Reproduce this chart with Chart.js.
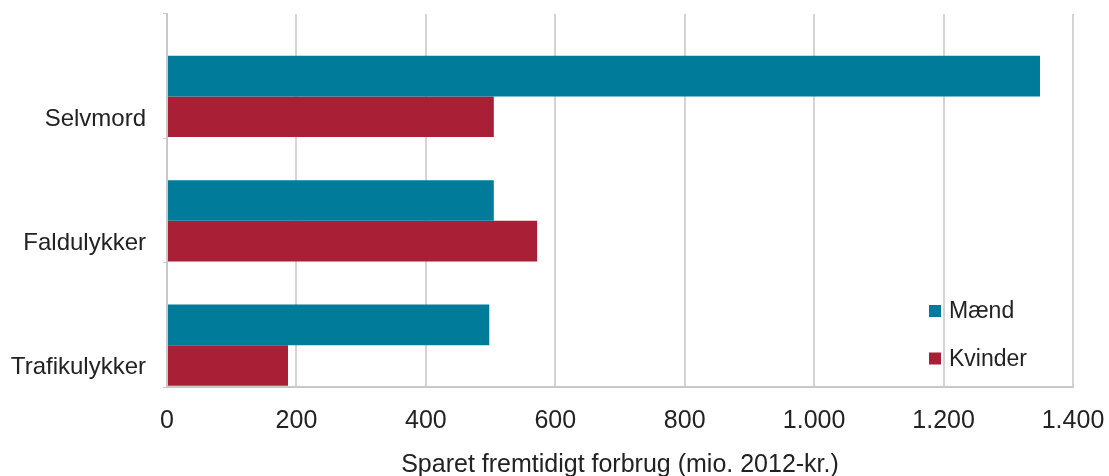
<!DOCTYPE html>
<html>
<head>
<meta charset="utf-8">
<script src="https://cdn.jsdelivr.net/npm/chart.js@4.4.1/dist/chart.umd.min.js"></script>
<style>
  html, body { margin: 0; padding: 0; background: #fff; }
  #wrap { width: 1109px; height: 476px; }
</style>
</head>
<body>
<div id="wrap"><canvas id="chart"></canvas></div>
<script>
// 데이터 (mio. 2012-kr.)
const categories = ['Selvmord', 'Faldulykker', 'Trafikulykker'];
const maend = [1349, 505, 498];
const kvinder = [505, 572, 187];
const seriesLabels = ['Mænd', 'Kvinder'];
const seriesColors = ['#007B9A', '#A81F36'];
const xTicks = [0, 200, 400, 600, 800, 1000, 1200, 1400];
const axisTitle = 'Sparet fremtidigt forbrug (mio. 2012-kr.)';

const FONT = 'Liberation Sans, Arial, sans-serif';

// 천 단위 구분자 '.' (덴마크식)
function fmt(v) {
    return String(v).replace(/\B(?=(\d{3})+(?!\d))/g, '.');
}

// 차트 영역 안 오른쪽 아래 범례
const insideLegend = {
    id: 'insideLegend',
    afterDraw(chart) {
        const { ctx, chartArea } = chart;
        ctx.save();
        ctx.font = '23px ' + FONT;
        ctx.textBaseline = 'middle';
        seriesLabels.forEach((label, i) => {
            const x = chartArea.right - 144;
            const y = chartArea.bottom - 76 + i * 47.5;
            ctx.fillStyle = seriesColors[i];
            ctx.fillRect(x, y - 6, 12, 12);
            ctx.fillStyle = '#222';
            ctx.fillText(label, x + 20, y + 1);
        });
        ctx.restore();
    }
};

new Chart(document.getElementById('chart'), {
    type: 'bar',
    data: {
        labels: categories,
        datasets: [
            // 빈 자리 (엑셀 원본처럼 막대가 아래쪽에 붙도록)
            { label: '', data: categories.map(() => null), backgroundColor: 'rgba(0,0,0,0)' },
            { label: seriesLabels[0], data: maend, backgroundColor: seriesColors[0] },
            { label: seriesLabels[1], data: kvinder, backgroundColor: seriesColors[1] }
        ]
    },
    options: {
        indexAxis: 'y',
        responsive: true,
        maintainAspectRatio: false,
        animation: false,
        layout: { padding: { top: 14, right: 36, left: 0, bottom: 0 } },
        datasets: { bar: { barPercentage: 1.0, categoryPercentage: 0.98 } },
        plugins: {
            legend: { display: false },
            tooltip: { enabled: false }
        },
        scales: {
            x: {
                min: 0, max: 1400,
                afterBuildTicks: (axis) => { axis.ticks = xTicks.map(v => ({ value: v })); },
                // 영역 크기를 원본에 맞춤
                afterFit: (axis) => { axis.height = 89; axis.paddingLeft = 0; axis.paddingRight = 0; },
                grid: { color: '#d4d4d4', lineWidth: 2, drawTicks: false },
                border: { display: true, color: '#c8c8c8', width: 2 },
                ticks: {
                    padding: 19,
                    color: '#222',
                    font: { family: FONT, size: 25 },
                    callback: (v) => fmt(v)
                },
                title: {
                    display: true,
                    text: axisTitle,
                    color: '#222',
                    font: { family: FONT, size: 25 },
                    padding: { top: 12, bottom: -4 }
                }
            },
            y: {
                afterFit: (axis) => { axis.width = 167; axis.paddingTop = 0; axis.paddingBottom = 0; },
                grid: { display: true, drawOnChartArea: false, offset: true, tickLength: 4, color: '#cfcfcf' },
                border: { display: true, color: '#c8c8c8', width: 2 },
                ticks: {
                    padding: 17,
                    labelOffset: 43,
                    color: '#222',
                    font: { family: FONT, size: 24 }
                }
            }
        }
    },
    plugins: [insideLegend]
});
</script>
</body>
</html>
